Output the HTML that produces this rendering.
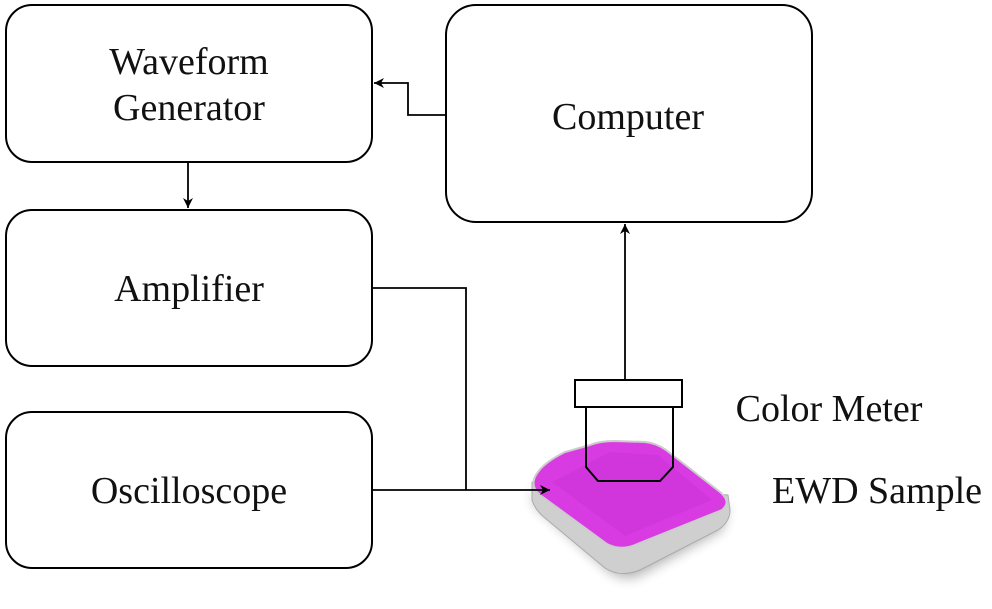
<!DOCTYPE html>
<html><head><style>body{margin:0;background:#fff}</style></head><body>
<svg width="992" height="604" viewBox="0 0 992 604" xmlns="http://www.w3.org/2000/svg" font-family="Liberation Serif, serif">
<defs>
<marker id="a" markerWidth="12" markerHeight="12" refX="10" refY="5" orient="auto" markerUnits="userSpaceOnUse"><path d="M0,0 L10,5 L0,10 L3,5 Z" fill="#000"/></marker>
<filter id="b" x="-20%" y="-20%" width="140%" height="140%"><feGaussianBlur stdDeviation="6"/></filter>
</defs>
<g fill="#fff" stroke="#000" stroke-width="2">
<rect x="6" y="5" width="366" height="157" rx="26"/>
<rect x="6" y="210" width="366" height="156" rx="26"/>
<rect x="6" y="412" width="366" height="156" rx="26"/>
<rect x="446" y="5" width="366" height="217" rx="30"/>
</g>
<g font-size="38" text-anchor="middle" fill="#111">
<text x="189" y="74">Waveform</text>
<text x="189" y="120">Generator</text>
<text x="189" y="301">Amplifier</text>
<text x="189" y="503">Oscilloscope</text>
<text x="628" y="129">Computer</text>
<text x="829" y="421">Color Meter</text>
<text x="877" y="503">EWD Sample</text>
</g>
<g fill="none" stroke="#000" stroke-width="1.8">
<path d="M446,115 H408 V83 H374" marker-end="url(#a)"/>
<path d="M188,162 V208" marker-end="url(#a)"/>
<path d="M372,288 H466 V490"/>
<path d="M625,380 V224" marker-end="url(#a)"/>
</g>
<!-- sample -->
<path d="M535,505 L610,572 Q625,582 640,575 L722,530 L728,505 L620,555 L532,490 Z" fill="#000" opacity="0.3" filter="url(#b)"/>
<path d="M532,482 L532,500 Q535,510 545,518 L605,568 Q620,578 640,570 L718,530 Q730,522 730,510 L728,495 Z" fill="#cfcfcf" stroke="#aaa" stroke-width="1"/>
<path d="M538,472 Q545,462 565,452 L590,445 Q600,441 615,441 L645,442 Q656,443 666,450 L720,492 Q732,502 722,510 L635,545 Q620,551 607,544 L540,495 Q528,485 538,472 Z" fill="#d83be2" stroke="#ccc" stroke-width="2"/>
<path d="M552,482 L610,452 L658,455 L712,500 L625,536 Z" fill="#c42ed0" opacity="0.35"/>
<!-- meter -->
<g fill="none" stroke="#000" stroke-width="2">
<rect x="575" y="380" width="107" height="27" fill="#fff"/>
<path d="M586,407 V467 L598,481 H660 L673,467 V407"/>
</g>
<path d="M372,490 H550" fill="none" stroke="#000" stroke-width="1.8" marker-end="url(#a)"/>
</svg>
</body></html>
